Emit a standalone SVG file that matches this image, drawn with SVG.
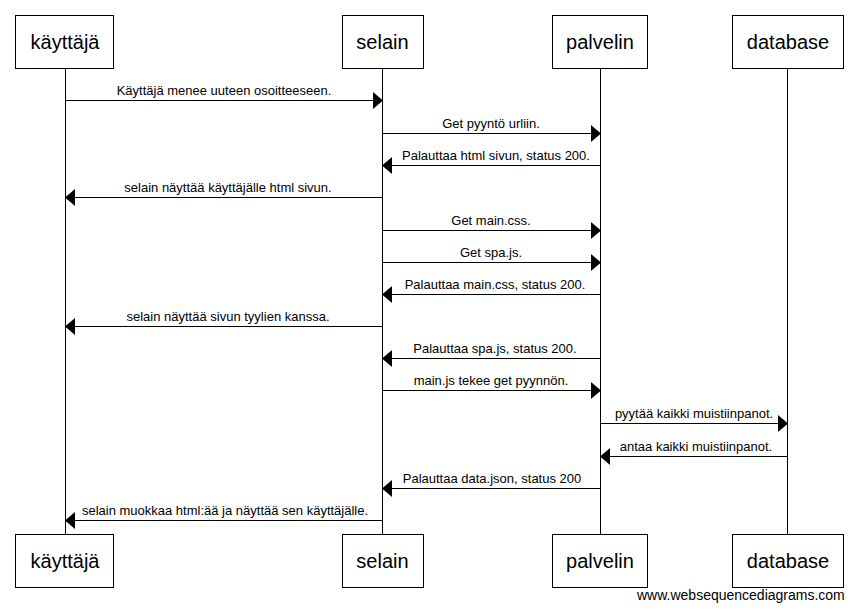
<svg xmlns="http://www.w3.org/2000/svg" width="857" height="611" viewBox="0 0 857 611">
  <style>
    .box { fill: #ffffff; stroke: #000000; stroke-width: 1; }
    .name { font-family: "Liberation Sans", Arial, sans-serif; font-size: 20px; fill: #000000; text-anchor: middle; }
    .life { stroke: #000000; stroke-width: 1; fill: none; }
    .msg { stroke: #000000; stroke-width: 1; fill: none; }
    .head { fill: #000000; stroke: none; }
    .lbl { font-family: "Liberation Sans", Arial, sans-serif; font-size: 13px; fill: #000000; text-anchor: middle; }
    .credit { font-family: "Liberation Sans", Arial, sans-serif; font-size: 14px; fill: #000000; }
  </style>
  <rect width="857" height="611" fill="#ffffff"/>

  <!-- lifelines -->
  <g id="lifelines">
    <line class="life" x1="65.5" y1="68" x2="65.5" y2="534"/>
    <line class="life" x1="382.5" y1="68" x2="382.5" y2="534"/>
    <line class="life" x1="600.5" y1="68" x2="600.5" y2="534"/>
    <line class="life" x1="787.5" y1="68" x2="787.5" y2="534"/>
  </g>

  <!-- participants -->
  <g id="kayttaja">
    <rect class="box" x="15.5" y="15.5" width="98" height="53"/>
    <text class="name" x="65" y="49">käyttäjä</text>
    <rect class="box" x="15.5" y="534.5" width="98" height="53"/>
    <text class="name" x="65" y="568">käyttäjä</text>
  </g>
  <g id="selain">
    <rect class="box" x="342.5" y="15.5" width="81" height="53"/>
    <text class="name" x="382.5" y="49">selain</text>
    <rect class="box" x="342.5" y="534.5" width="81" height="53"/>
    <text class="name" x="382.5" y="568">selain</text>
  </g>
  <g id="palvelin">
    <rect class="box" x="552.5" y="15.5" width="95" height="53"/>
    <text class="name" x="600" y="49">palvelin</text>
    <rect class="box" x="552.5" y="534.5" width="95" height="53"/>
    <text class="name" x="600" y="568">palvelin</text>
  </g>
  <g id="database">
    <rect class="box" x="732.5" y="15.5" width="111" height="53"/>
    <text class="name" x="788" y="49">database</text>
    <rect class="box" x="732.5" y="534.5" width="111" height="53"/>
    <text class="name" x="788" y="568">database</text>
  </g>

  <!-- messages -->
  <g id="connectors">
    <line class="msg" x1="65.5" y1="100.5" x2="374" y2="100.5"/>
    <polygon class="head" points="383,100.5 373,92 373,109"/>
    <text class="lbl" x="224" y="95">Käyttäjä menee uuteen osoitteeseen.</text>

    <line class="msg" x1="382.5" y1="133.5" x2="592" y2="133.5"/>
    <polygon class="head" points="601,133.5 591,125 591,142"/>
    <text class="lbl" x="491" y="128">Get pyyntö urliin.</text>

    <line class="msg" x1="600.5" y1="165.5" x2="391" y2="165.5"/>
    <polygon class="head" points="382,165.5 392,157 392,174"/>
    <text class="lbl" x="496" y="160">Palauttaa html sivun, status 200.</text>

    <line class="msg" x1="382.5" y1="197.5" x2="74" y2="197.5"/>
    <polygon class="head" points="65,197.5 75,189 75,206"/>
    <text class="lbl" x="228" y="192">selain näyttää käyttäjälle html sivun.</text>

    <line class="msg" x1="382.5" y1="230.5" x2="592" y2="230.5"/>
    <polygon class="head" points="601,230.5 591,222 591,239"/>
    <text class="lbl" x="491" y="225">Get main.css.</text>

    <line class="msg" x1="382.5" y1="262.5" x2="592" y2="262.5"/>
    <polygon class="head" points="601,262.5 591,254 591,271"/>
    <text class="lbl" x="491" y="257">Get spa.js.</text>

    <line class="msg" x1="600.5" y1="294.5" x2="391" y2="294.5"/>
    <polygon class="head" points="382,294.5 392,286 392,303"/>
    <text class="lbl" x="495" y="289">Palauttaa main.css, status 200.</text>

    <line class="msg" x1="382.5" y1="326.5" x2="74" y2="326.5"/>
    <polygon class="head" points="65,326.5 75,318 75,335"/>
    <text class="lbl" x="228" y="321">selain näyttää sivun tyylien kanssa.</text>

    <line class="msg" x1="600.5" y1="358.5" x2="391" y2="358.5"/>
    <polygon class="head" points="382,358.5 392,350 392,367"/>
    <text class="lbl" x="495" y="353">Palauttaa spa.js, status 200.</text>

    <line class="msg" x1="382.5" y1="390.5" x2="592" y2="390.5"/>
    <polygon class="head" points="601,390.5 591,382 591,399"/>
    <text class="lbl" x="491" y="385">main.js tekee get pyynnön.</text>

    <line class="msg" x1="600.5" y1="423.5" x2="779" y2="423.5"/>
    <polygon class="head" points="788,423.5 778,415 778,432"/>
    <text class="lbl" x="694" y="418">pyytää kaikki muistiinpanot.</text>

    <line class="msg" x1="787.5" y1="456.5" x2="609" y2="456.5"/>
    <polygon class="head" points="600,456.5 610,448 610,465"/>
    <text class="lbl" x="696" y="451">antaa kaikki muistiinpanot.</text>

    <line class="msg" x1="600.5" y1="488.5" x2="391" y2="488.5"/>
    <polygon class="head" points="382,488.5 392,480 392,497"/>
    <text class="lbl" x="492" y="483">Palauttaa data.json, status 200</text>

    <line class="msg" x1="382.5" y1="520.5" x2="74" y2="520.5"/>
    <polygon class="head" points="65,520.5 75,512 75,529"/>
    <text class="lbl" x="225" y="515">selain muokkaa html:ää ja näyttää sen käyttäjälle.</text>
  </g>

  <text class="credit" x="637" y="600">www.websequencediagrams.com</text>
</svg>
